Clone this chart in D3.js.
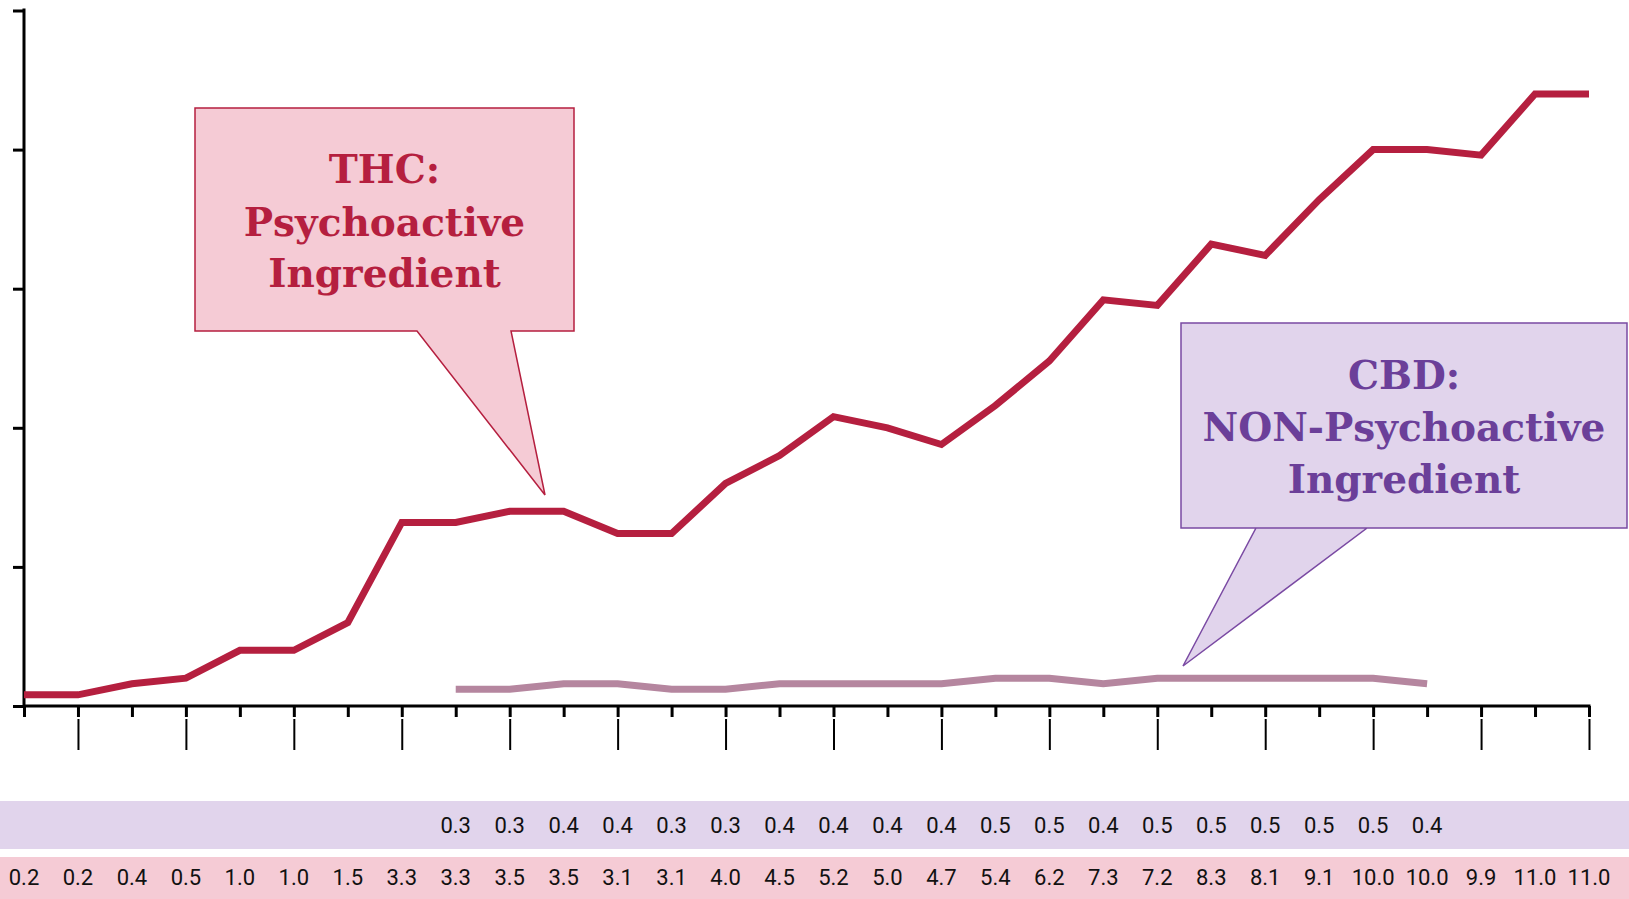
<!DOCTYPE html>
<html>
<head>
<meta charset="utf-8">
<script src="https://cdn.jsdelivr.net/npm/d3@7"></script>
<style>
    body { margin: 0; background: #fff; }
</style>
</head>
<body>
<div id="chart"></div>
<script>
// values
let thcValues = [0.2, 0.2, 0.4, 0.5, 1.0, 1.0, 1.5, 3.3, 3.3, 3.5, 3.5, 3.1, 3.1, 4.0, 4.5,
    5.2, 5.0, 4.7, 5.4, 6.2, 7.3, 7.2, 8.3, 8.1, 9.1, 10.0, 10.0, 9.9, 11.0, 11.0];
let cbdValues = [null, null, null, null, null, null, null, null,
    0.3, 0.3, 0.4, 0.4, 0.3, 0.3, 0.4, 0.4, 0.4, 0.4, 0.5, 0.5, 0.4, 0.5, 0.5, 0.5, 0.5, 0.5, 0.4,
    null, null, null];
let yTicks = [0, 2.5, 5, 7.5, 10, 12.5];
let thcLabel = ["THC:", "Psychoactive", "Ingredient"];
let cbdLabel = ["CBD:", "NON-Psychoactive", "Ingredient"];

let width = 1629;
let height = 899;

let thcColor = "#b51f3f";
let cbdLine = "#b5869f";
let cbdColor = "#6b3f99";
let pinkFill = "#f5cbd5";
let purpleFill = "#e1d4ec";

let svg = d3.select("#chart")
    .append("svg")
    .attr("width", width)
    .attr("height", height);

let idx = thcValues.map((d, i) => i);

let x = d3.scalePoint()
    .domain(idx)
    .range([24, 1589]);

let y = d3.scaleLinear()
    .domain([0, 12.5])
    .range([706, 10.5]);

/*---------------
 // axes
 ----------------*/
let yAxis = svg.append("g")
    .attr("transform", "translate(24,0)")
    .call(d3.axisLeft(y).tickValues(yTicks).tickSize(11).tickSizeOuter(0).tickFormat(""));

let xAxis = svg.append("g")
    .attr("transform", "translate(0,706)")
    .call(d3.axisBottom(x).tickSize(11).tickSizeOuter(0).tickFormat(""));

[yAxis, xAxis].forEach(g => {
    g.select(".domain").attr("stroke", "#000").attr("stroke-width", 3);
    g.selectAll(".tick line").attr("stroke", "#000").attr("stroke-width", 3);
});
yAxis.select(".domain").attr("d", "M0,8.5V707.2");
xAxis.select(".domain").attr("d", "M24,0H1590.5");

// thin long ticks at every second point
svg.append("g")
    .attr("transform", "translate(0,719)")
    .call(d3.axisBottom(x).tickValues(idx.filter(i => i % 2 == 1)).tickSize(31).tickFormat(""))
    .call(g => g.select(".domain").remove())
    .selectAll(".tick line")
    .attr("stroke", "#000")
    .attr("stroke-width", 2);

/*---------------
 // lines
 ----------------*/
let line = d3.line()
    .defined(d => d != null)
    .x((d, i) => x(i))
    .y(d => y(d));

svg.append("path")
    .datum(cbdValues)
    .attr("fill", "none")
    .attr("stroke", cbdLine)
    .attr("stroke-width", 7)
    .attr("d", line);

svg.append("path")
    .datum(thcValues)
    .attr("fill", "none")
    .attr("stroke", thcColor)
    .attr("stroke-width", 7)
    .attr("d", line);

/*---------------
 // callouts
 ----------------*/
function callout(box, tip, fill, stroke, textColor, lines, baselines) {
    let pts = [
        [box.x0, box.y0], [box.x1, box.y0], [box.x1, box.y1],
        [tip.b1, box.y1], [tip.x, tip.y], [tip.b0, box.y1], [box.x0, box.y1]
    ];
    svg.append("path")
        .attr("d", "M" + pts.join("L") + "Z")
        .attr("fill", fill)
        .attr("stroke", stroke)
        .attr("stroke-width", 1.5);
    lines.forEach((t, i) => {
        svg.append("text")
            .attr("x", (box.x0 + box.x1) / 2)
            .attr("y", baselines[i])
            .attr("text-anchor", "middle")
            .attr("font-family", "DejaVu Serif")
            .attr("font-weight", "bold")
            .attr("font-size", 39)
            .attr("fill", textColor)
            .text(t);
    });
}

callout({x0: 195, x1: 574, y0: 108, y1: 331}, {b0: 417, b1: 511, x: 545, y: 495},
    pinkFill, thcColor, thcColor, thcLabel, [183, 236, 287]);

callout({x0: 1181, x1: 1627, y0: 323, y1: 528}, {b0: 1367, b1: 1256, x: 1183, y: 666},
    purpleFill, "#7a4aa3", cbdColor, cbdLabel, [389, 441, 493]);

/*---------------
 // data table
 ----------------*/
svg.append("rect")
    .attr("x", 0).attr("y", 801)
    .attr("width", width).attr("height", 48)
    .attr("fill", purpleFill);

svg.append("rect")
    .attr("x", 0).attr("y", 857)
    .attr("width", width).attr("height", 42)
    .attr("fill", pinkFill);

let fmt = d3.format(".1f");

function tableRow(values, baseline) {
    svg.append("g")
        .selectAll("text")
        .data(values.map((v, i) => ({v: v, i: i})).filter(d => d.v != null))
        .enter()
        .append("text")
        .attr("x", d => x(d.i))
        .attr("y", baseline)
        .attr("text-anchor", "middle")
        .attr("font-family", "Roboto")
        .attr("font-size", 22)
        .attr("fill", "#111")
        .text(d => fmt(d.v));
}

tableRow(cbdValues, 833);
tableRow(thcValues, 885);
</script>
</body>
</html>
